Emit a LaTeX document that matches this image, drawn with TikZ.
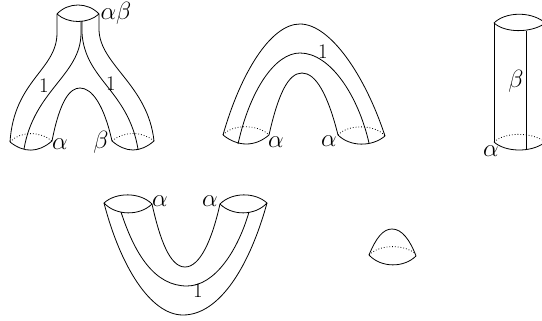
\documentclass[tikz,border=0pt]{standalone}
\usepackage{amsmath}
\usetikzlibrary{positioning, calc}
\tikzset{
  surf/.style={draw=black, line width=0.8pt},
  rim/.style={draw=black, line width=0.8pt, dotted},
  lab/.style={font=\huge, inner sep=0pt},
  greek/.style={font=\Huge, inner sep=0pt},
}

\begin{document}
\begin{tikzpicture}[x=1pt, y=-1pt]
  \useasboundingbox (0,0) rectangle (542,321);

  % pair of pants
  \draw[surf] (57,14) .. controls (68,2) and (88,2) .. (99,14);
  \draw[surf] (57,14) .. controls (68,24) and (88,24) .. (99,14);
  \draw[surf] (57,14) -- (57,33) .. controls (57,70) and (14,80) .. (10,142);
  \draw[surf] (99,14) -- (99,30) .. controls (100,65) and (148,85) .. (154,141);
  \draw[surf] (81,21) -- (81,33) .. controls (81,75) and (34,90) .. (24,149);
  \draw[surf] (82,21) -- (82,33) .. controls (85,80) and (128,90) .. (138,149);
  \draw[surf] (52,141) .. controls (60,100) and (70,88) .. (80,88) .. controls (92,88) and (104,105) .. (112,141);
  \draw[surf] (10,142) .. controls (24,153) and (38,153) .. (52,141);
  \draw[surf] (112,141) .. controls (126,153) and (140,153) .. (154,141);
  \draw[rim] (10,142) .. controls (20,131) and (40,131) .. (52,141);
  \draw[rim] (112,141) .. controls (124,131) and (142,131) .. (154,141);
  \node[greek] (ab) at (116,13) {$\alpha\beta$};
  \node[lab] (onel) at (44,86) {$1$};
  \node[lab] (oner) at (111,84) {$1$};
  \node[greek] (al) at (60,144) {$\alpha$};
  \node[greek] (bl) at (101,142) {$\beta$};

  % arch
  \draw[surf] (223,135) .. controls (240,75) and (270,24) .. (300,24) .. controls (330,24) and (365,75) .. (385,136);
  \draw[surf] (238,144) .. controls (250,90) and (275,53) .. (300,53) .. controls (330,53) and (358,95) .. (369,143);
  \draw[surf] (269,135) .. controls (278,95) and (288,73) .. (302,73) .. controls (316,73) and (328,95) .. (338,135);
  \draw[surf] (223,135) .. controls (238,147) and (255,147) .. (269,135);
  \draw[surf] (338,135) .. controls (350,147) and (372,147) .. (385,136);
  \draw[rim] (223,135) .. controls (232,124) and (258,124) .. (269,135);
  \draw[rim] (338,135) .. controls (348,124) and (375,124) .. (385,136);
  \node[greek] (aa) at (276,142) {$\alpha$};
  \node[greek] (ab2) at (329,141) {$\alpha$};
  \node[lab] (onea) at (323,52) {$1$};

  % cylinder
  \draw[surf] (494,23) .. controls (505,12) and (530,11) .. (544,22);
  \draw[surf] (494,23) .. controls (505,33) and (530,33) .. (544,24);
  \draw[surf] (494,23) -- (494,142);
  \draw[surf] (526,31) -- (526,150);
  \draw[surf] (494,142) .. controls (505,152) and (530,153) .. (544,143);
  \draw[rim] (494,142) .. controls (505,132) and (530,132) .. (544,141);
  \node[greek] (bc) at (516,81) {$\beta$};
  \node[greek] (ac) at (491,151) {$\alpha$};

  % cup
  \draw[surf] (104,203) .. controls (116,192) and (140,192) .. (152,204);
  \draw[surf] (104,203) .. controls (116,216) and (140,216) .. (152,204);
  \draw[surf] (220,204) .. controls (232,192) and (255,192) .. (267,203);
  \draw[surf] (220,204) .. controls (232,216) and (255,216) .. (267,203);
  \draw[surf] (104,203) .. controls (120,265) and (150,315) .. (183,315) .. controls (220,315) and (250,265) .. (267,203);
  \draw[surf] (121,212) .. controls (135,255) and (155,286) .. (187,286) .. controls (215,286) and (238,250) .. (249,212);
  \draw[surf] (152,204) .. controls (160,240) and (170,267) .. (185,267) .. controls (200,267) and (212,240) .. (220,204);
  \node[greek] (acl) at (160,201) {$\alpha$};
  \node[greek] (acr) at (210,201) {$\alpha$};
  \node[lab] (oneb) at (198,291) {$1$};

  % cap
  \draw[surf] (369,255) .. controls (376,238) and (383,229) .. (392,229) .. controls (402,229) and (410,240) .. (416,256);
  \draw[surf] (369,255) .. controls (381,268) and (404,268) .. (416,256);
  \draw[rim] (369,255) .. controls (380,244) and (404,244) .. (416,254);
\end{tikzpicture}
\end{document}
